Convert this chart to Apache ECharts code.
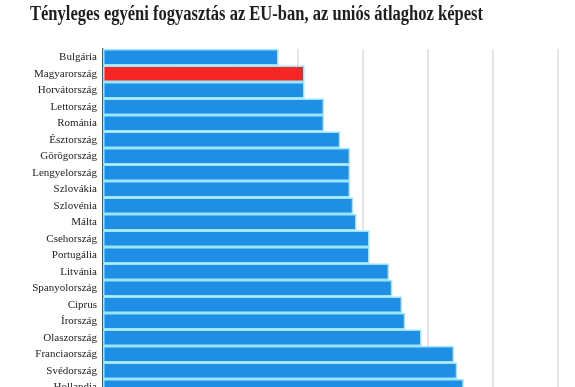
<!DOCTYPE html>
<html><head><meta charset="utf-8">
<script src="https://cdn.jsdelivr.net/npm/echarts@6/dist/echarts.min.js"></script>
<style>html,body{margin:0;padding:0;background:#fff}#c{width:575px;height:387px}</style>
</head><body><div id="c"></div>
<script>
const titleText = 'Tényleges egyéni fogyasztás az EU-ban, az uniós átlaghoz képest';
const categories = ['Bulgária','Magyarország','Horvátország','Lettország','Románia','Észtország','Görögország','Lengyelország','Szlovákia','Szlovénia','Málta','Csehország','Portugália','Litvánia','Spanyolország','Ciprus','Írország','Olaszország','Franciaország','Svédország','Hollandia'];
const values = [54,62,62,68,68,73,76,76,76,77,78,82,82,88,89,92,93,98,108,109,111];
const highlight = 'Magyarország';

const titleFont = 'bold 20px "Liberation Serif"';
const cv = document.createElement('canvas').getContext('2d');
cv.font = titleFont;
const tw = cv.measureText(titleText).width;
const sx = 453 / tw;

const chart = echarts.init(document.getElementById('c'));
chart.setOption({
  animation: false,
  graphic: [{
    type: 'text', x: 30, y: 5, scaleX: sx,
    style: { text: titleText, font: titleFont, fill: '#1e1e1e' }
  }],
  grid: { left: 103, right: 17, top: 49, height: 346.5, outerBoundsMode: 'none' },
  xAxis: {
    type: 'value', min: 0, max: 140, interval: 20,
    axisLabel: { show: false }, axisLine: { show: false }, axisTick: { show: false },
    splitLine: { lineStyle: { color: '#dcdcdc', width: 1.5 } }
  },
  yAxis: {
    type: 'category', data: categories, inverse: true,
    axisLine: { lineStyle: { color: '#222', width: 1.5 } },
    axisTick: { show: false },
    axisLabel: { fontFamily: 'Liberation Serif', fontSize: 11, color: '#222', margin: 6 }
  },
  series: [{
    type: 'bar', barCategoryGap: '0%',
    data: values.map((v, i) => ({
      value: v,
      itemStyle: { color: categories[i] === highlight ? '#f42626' : '#1e8fe4' }
    })),
    itemStyle: { borderColor: '#9be6fb', borderWidth: 1.5 }
  }]
});
</script></body></html>
